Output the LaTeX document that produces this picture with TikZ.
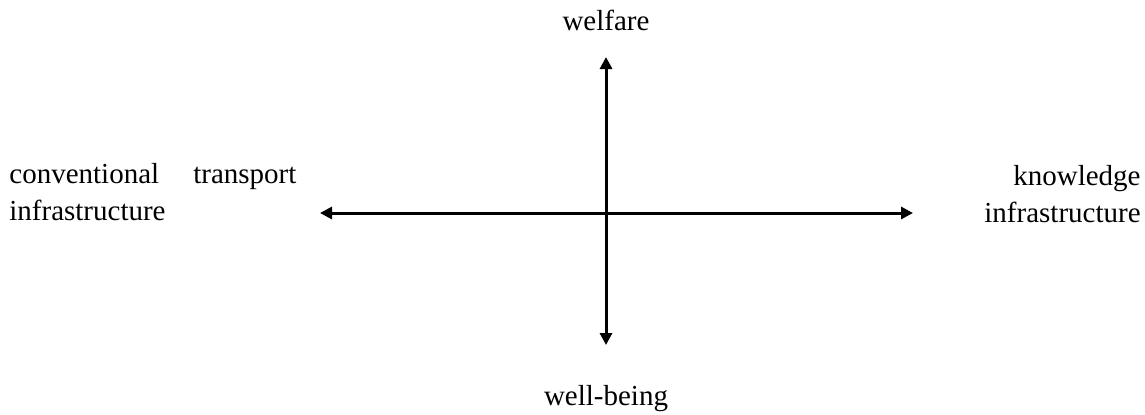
\documentclass[tikz,border=0pt]{standalone}
\usepackage{fontspec}
\setmainfont{Liberation Serif}
\usetikzlibrary{arrows.meta}

\begin{document}
\begin{tikzpicture}[x=0.5pt, y=-0.5pt,
  axisline/.style={line width=1.5pt, black, {Triangle[length=6pt,width=6pt]}-{Triangle[length=6pt,width=6pt]}},
  lbl/.style={inner sep=0pt, font=\fontsize{14.5}{18.5}\selectfont}]
\useasboundingbox (0,0) rectangle (1145,414);

\coordinate (O) at (606,213);
\coordinate (Up) at (606,57);
\coordinate (Down) at (606,345);
\coordinate (Left) at (320,213);
\coordinate (Right) at (913,213);

\draw[axisline] (Down) -- (Up);
\draw[axisline] (Left) -- (Right);

\node[lbl, anchor=base] (welfare) at (606,30) {welfare};
\node[lbl, anchor=base] (wellbeing) at (606,405) {well-being};
\node[lbl, anchor=base west, text width=143.5pt, align=left] (conv) at (9,183)
  {conventional\hspace{0pt plus 1filll}transport\\infrastructure};
\node[lbl, anchor=base east, align=right] (know) at (1141,222)
  {knowledge\\infrastructure};
\end{tikzpicture}
\end{document}
